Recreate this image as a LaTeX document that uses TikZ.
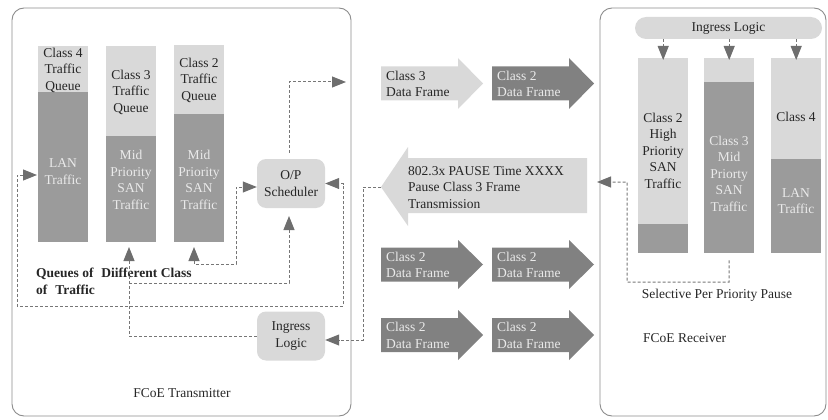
\documentclass[tikz,border=0pt]{standalone}
\usepackage{fontspec}
\setmainfont{Liberation Serif}
\usetikzlibrary{arrows.meta}
\definecolor{lightg}{HTML}{D9D9D9}
\definecolor{darkq}{HTML}{9B9B9B}
\definecolor{darka}{HTML}{818181}
\definecolor{lineg}{HTML}{767676}
\definecolor{headg}{HTML}{6E6E6E}
\definecolor{frameg}{HTML}{8C8C8C}
\definecolor{paletext}{HTML}{EAEAEA}
\definecolor{txt}{HTML}{262626}
\tikzset{
  every node/.style={font=\fontsize{13.5}{16.5}\selectfont, text=txt, inner sep=0pt, align=center},
  framebox/.style={draw=frameg, line width=0.9pt, rounded corners=12pt, minimum width=#1},
  qpart/.style={rectangle, anchor=north west, minimum width=50pt},
  qlight/.style={qpart, fill=lightg},
  qdark/.style={qpart, fill=darkq},
  pale/.style={text=paletext},
  roundbox/.style={fill=lightg, rounded corners=9pt, minimum width=68pt, minimum height=49pt},
  dashline/.style={draw=lineg, line width=1pt, dash pattern=on 3pt off 2pt},
  arrhead/.style={-{Triangle[length=14pt,width=11pt,color=headg]}},
  arrboth/.style={{Triangle[length=14pt,width=11pt,color=headg]}-{Triangle[length=14pt,width=11pt,color=headg]}},
  lightarrow/.style={fill=lightg},
  darkarrow/.style={fill=darka},
}
\begin{document}
\begin{tikzpicture}[x=1pt,y=-1pt]
\useasboundingbox (0,0) rectangle (828,420);

% ===== frames =====
\node[framebox=339pt, minimum height=408pt] (tx) at (181.5,212) {};
\node[framebox=226pt, minimum height=408pt] (rx) at (713,212) {};

% ===== transmitter queues =====
\node[qlight, minimum height=46pt] (q4t) at (38,46) {};
\node[qdark, minimum height=150pt] (q4b) at (38,92) {};
\node[qlight, minimum height=90pt] (q3t) at (106,46) {};
\node[qdark, minimum height=106pt] (q3b) at (106,136) {};
\node[qlight, minimum height=69pt] (q2t) at (174,45) {};
\node[qdark, minimum height=128pt] (q2b) at (174,114) {};

\node (q4tt) at (63,70) {Class 4\\Traffic\\Queue};
\node[pale] (q4bt) at (63,171.5) {LAN\\Traffic};
\node (q3tt) at (131,92) {Class 3\\Traffic\\Queue};
\node[pale] (q3bt) at (131,180) {Mid\\Priority\\SAN\\Traffic};
\node (q2tt) at (199,80) {Class 2\\Traffic\\Queue};
\node[pale] (q2bt) at (199,180) {Mid\\Priority\\SAN\\Traffic};

\node[anchor=west, align=left, font=\bfseries\fontsize{13.5}{17}\selectfont] (qlabel) at (36,281) {Queues of\,\, Diifferent Class\\of\,\, Traffic};
\node (txlabel) at (182,393) {FCoE Transmitter};

\node[roundbox] (sched) at (291,183.5) {O/P\\Scheduler};
\node[roundbox] (ingT) at (291,336) {Ingress\\Logic};

% ===== transmitter connectors =====
\coordinate (lanin) at (37,175);
\coordinate (txout) at (346,82);
\coordinate (q2in) at (194,247);
\coordinate (q3in) at (129,247);
\coordinate (schedin) at (289,216);

\draw[dashline, arrboth] (lanin) -- (17,175) -- (17,306) -- (343,306) -- (343,183.5) -- (sched.east);
\draw[dashline, arrboth] (q2in) -- (194,264) -- (236,264) -- (236,187) -- (sched.west |- 0,187);
\draw[dashline, arrhead] ([yshift=6pt]sched.north -| 289,0) -- (289,82) -- (txout);
\draw[dashline, arrhead] (ingT.west) -- (129,336) -- (q3in);
\draw[dashline, arrhead] (129,283) -- (289,283) -- (schedin);

% ===== frame arrows =====
\fill[lightarrow] (381,66.5) -- (458,66.5) -- (458,58) -- (483,83.5) -- (458,109) -- (458,100.5) -- (381,100.5) -- cycle;
\node[anchor=west, align=left] (f1) at (386,84) {Class 3\\Data Frame};
\fill[darkarrow] (492,66.5) -- (569,66.5) -- (569,58) -- (594,83.5) -- (569,109) -- (569,100.5) -- (492,100.5) -- cycle;
\node[anchor=west, align=left, pale] (f2) at (497,84) {Class 2\\Data Frame};

\fill[lightarrow] (381,187) -- (408,147) -- (408,158) -- (587,158) -- (587,213) -- (408,213) -- (408,226) -- cycle;
\coordinate (ptip) at (381,187);
\node[anchor=west, align=left] (pause) at (408,187.5) {802.3x PAUSE Time XXXX\\Pause Class 3 Frame\\Transmission};

\fill[darkarrow] (381,247.5) -- (458,247.5) -- (458,240) -- (483,264.5) -- (458,289) -- (458,281.5) -- (381,281.5) -- cycle;
\node[anchor=west, align=left, pale] (f3) at (386,265) {Class 2\\Data Frame};
\fill[darkarrow] (492,247.5) -- (569,247.5) -- (569,240) -- (594,264.5) -- (569,289) -- (569,281.5) -- (492,281.5) -- cycle;
\node[anchor=west, align=left, pale] (f4) at (497,265) {Class 2\\Data Frame};

\fill[darkarrow] (381,318) -- (458,318) -- (458,310) -- (483,335) -- (458,360) -- (458,352) -- (381,352) -- cycle;
\node[anchor=west, align=left, pale] (f5) at (386,335.5) {Class 2\\Data Frame};
\fill[darkarrow] (492,318) -- (569,318) -- (569,310) -- (594,335) -- (569,360) -- (569,352) -- (492,352) -- cycle;
\node[anchor=west, align=left, pale] (f6) at (497,335.5) {Class 2\\Data Frame};

\draw[dashline, arrhead] (ptip) -- (363,187) -- (363,340) -- ([yshift=-4pt]ingT.east);

% ===== receiver =====
\node[fill=lightg, rounded corners=11pt, minimum width=187pt, minimum height=22pt] (ingR) at (728.5,28) {Ingress Logic};

\node[qlight, minimum height=166pt] (r1t) at (638,58) {};
\node[qdark, minimum height=29pt] (r1b) at (638,224) {};
\node[qlight, minimum height=24pt] (r2t) at (704,58) {};
\node[qdark, minimum height=171pt] (r2b) at (704,82) {};
\node[qlight, minimum height=101pt] (r3t) at (771,58) {};
\node[qdark, minimum height=94pt] (r3b) at (771,159) {};

\node (r1text) at (663,150.5) {Class 2\\High\\Priority\\SAN\\Traffic};
\node[pale] (r2text) at (729,173.5) {Class 3\\Mid\\Priorty\\SAN\\Traffic};
\node (r3tt) at (796,117) {Class 4};
\node[pale] (r3bt) at (796,201) {LAN\\Traffic};

\draw[dashline, arrhead] (ingR.south -| r1t.north) -- ([yshift=-2pt]r1t.north);
\draw[dashline, arrhead] (ingR.south -| r2t.north) -- ([yshift=-2pt]r2t.north);
\draw[dashline, arrhead] (ingR.south -| r3t.north) -- ([yshift=-2pt]r3t.north);

\coordinate (rxout) at (597,182);
\draw[dashline, arrhead] ([yshift=-7pt]r2b.south) -- (729,282) -- (627,282) -- (627,182) -- (rxout);

\node (selp) at (717,295) {Selective Per Priority Pause};
\node[anchor=west] (rxlabel) at (643,338) {FCoE Receiver};
\end{tikzpicture}
\end{document}
